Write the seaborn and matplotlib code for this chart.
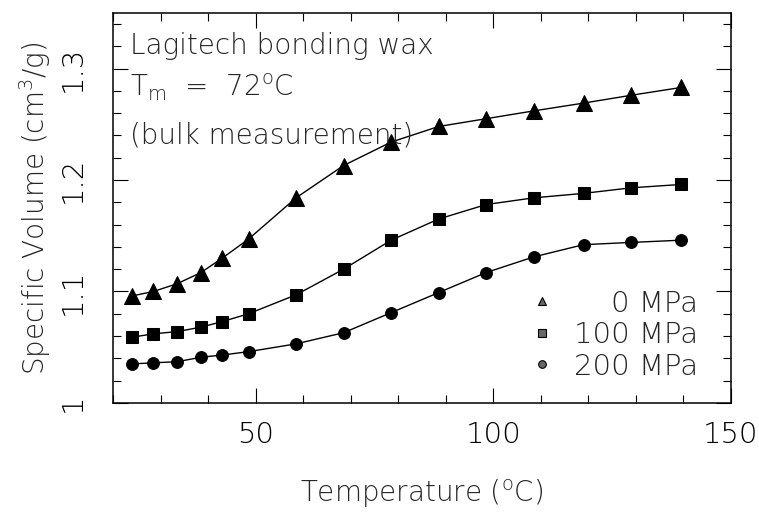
import matplotlib
matplotlib.use('Agg')
import matplotlib.pyplot as plt
import pandas as pd
import seaborn as sns
from matplotlib.lines import Line2D
from matplotlib.ticker import MultipleLocator

# Dados (temperatura em °C, volume específico em cm3/g)
temp = [24, 28.5, 33.5, 38.5, 43, 48.5, 58.5, 68.5, 78.5, 88.5, 98.5, 108.5, 119, 129, 139.5]
vol_0 = [1.096, 1.100, 1.107, 1.117, 1.130, 1.147, 1.184, 1.213, 1.234, 1.248, 1.255, 1.262,
         1.269, 1.276, 1.283]
vol_100 = [1.059, 1.062, 1.064, 1.068, 1.073, 1.080, 1.097, 1.120, 1.146, 1.165, 1.178, 1.184,
           1.188, 1.193, 1.196]
vol_200 = [1.035, 1.036, 1.037, 1.041, 1.043, 1.046, 1.053, 1.063, 1.081, 1.099, 1.117, 1.131,
           1.142, 1.144, 1.146]
labels = ['0 MPa', '100 MPa', '200 MPa']

sns.set_style('ticks')
plt.rcParams['font.family'] = ['DejaVu Sans']
plt.rcParams['font.weight'] = 'light'
plt.rcParams['axes.labelweight'] = 'light'
plt.rcParams['mathtext.default'] = 'regular'

fig = plt.figure(figsize=(7.59, 5.12), dpi=100)
ax = fig.add_axes([0.149, 0.213, 0.814, 0.762])

series = [(vol_0, '^', 11), (vol_100, 's', 8.5), (vol_200, 'o', 8.5)]
for vals, mk, ms in series:
    df = pd.DataFrame({'T': temp, 'V': vals})
    sns.lineplot(data=df, x='T', y='V', ax=ax, color='black', linewidth=1,
                 marker=mk, markersize=ms, markeredgecolor='black', estimator=None)

ax.set_xlim(20, 150)
ax.set_ylim(1.0, 1.35)
ax.xaxis.set_major_locator(MultipleLocator(50))
ax.xaxis.set_minor_locator(MultipleLocator(10))
ax.yaxis.set_major_locator(MultipleLocator(0.1))
ax.yaxis.set_minor_locator(MultipleLocator(0.02))
ax.set_yticks([1.0, 1.1, 1.2, 1.3])
ax.set_yticklabels(['1', '1.1', '1.2', '1.3'])

ax.tick_params(which='both', direction='in', top=True, right=True, width=0.8, color='black')
ax.tick_params(which='major', length=11, labelsize=21, labelcolor='black')
ax.tick_params(which='minor', length=6)
ax.tick_params(axis='x', pad=13)
ax.tick_params(axis='y', pad=19)
for lab in ax.get_yticklabels():
    lab.set_rotation(90)
    lab.set_va('center')
for sp in ax.spines.values():
    sp.set_linewidth(1.1)
    sp.set_color('black')

ax.set_xlabel('Temperature ($^{o}$C)', fontsize=20, fontweight='light')
ax.set_ylabel('Specific Volume (cm$^{3}$/g)', fontsize=20, fontweight='light')
ax.xaxis.set_label_coords(0.5, -0.192)
ax.yaxis.set_label_coords(-0.097, 0.5)

ax.text(0.028, 0.915, 'Lagitech bonding wax', transform=ax.transAxes, fontsize=20, va='center')
ax.text(0.028, 0.81, 'T$_{m}$  =  72$^{o}$C', transform=ax.transAxes, fontsize=20, va='center')
ax.text(0.028, 0.685, '(bulk measurement)', transform=ax.transAxes, fontsize=20, va='center')

handles = [Line2D([], [], linestyle='none', marker=m, markersize=5.5, markerfacecolor='0.4',
                  markeredgecolor='black', markeredgewidth=0.8) for m in ['^', 's', 'o']]
leg_labels = ['\u2007\u2007' + labels[0], labels[1], labels[2]]
ax.legend(handles, leg_labels, loc='lower right', bbox_to_anchor=(0.97, 0.02), frameon=False,
          fontsize=21, borderpad=0, labelspacing=0.12, handletextpad=0.6, handlelength=1)

fig.savefig('out.png', dpi=100)
